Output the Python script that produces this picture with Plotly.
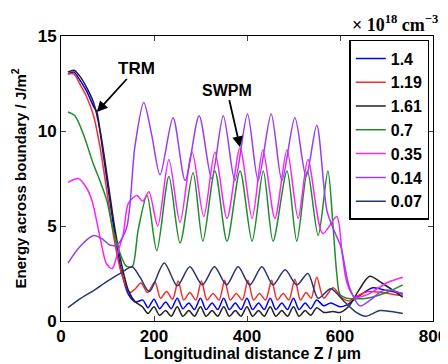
import plotly.graph_objects as go

# ---- data ----
legend_labels = ["1.4", "1.19", "1.61", "0.7", "0.35", "0.14", "0.07"]

z_14 = [15, 28, 40, 55, 70, 77, 85, 100, 115, 130, 145, 160, 176, 187, 200, 212, 225, 237, 250, 262, 275, 287,
        300, 312, 325, 337, 350, 362, 375, 387, 400, 412, 425, 437, 450, 462, 475, 487, 500, 512, 525, 537,
        550, 565, 580, 600, 615, 640, 671, 700, 735]
e_14 = [13.0, 13.1, 12.7, 12.1, 11.3, 11.0, 9.8, 7.2, 4.7, 2.6, 1.4, 1.0, 1.1, 0.7, 1.15, 0.65, 1.0, 0.65, 1.2, 0.65, 0.95, 0.6,
        1.2, 0.6, 0.95, 0.6, 1.2, 0.6, 0.95, 0.6, 1.2, 0.6, 0.95, 0.6, 1.2, 0.6, 0.95, 0.6, 1.2, 0.6, 0.95, 0.65,
        1.1, 0.8, 0.95, 0.75, 0.85, 1.3, 1.75, 1.6, 1.45]

z_119 = [15, 28, 40, 55, 70, 85, 100, 115, 130, 148, 160, 172, 186, 202, 214, 227, 240, 252, 264, 277, 290,
         302, 314, 327, 340, 352, 364, 377, 390, 402, 414, 427, 440, 453, 465, 478, 490, 503, 515, 527, 538,
         550, 565, 585, 605, 620, 640, 660, 690, 715, 735]
e_119 = [13.0, 13.0, 12.5, 11.8, 10.8, 9.0, 6.6, 4.2, 2.5, 1.5, 1.7, 2.0, 1.5, 2.05, 1.2, 1.55, 1.15, 2.1, 1.1, 1.5, 1.1,
         2.1, 1.1, 1.45, 1.1, 2.15, 1.1, 1.45, 1.1, 2.15, 1.1, 1.45, 1.1, 2.15, 1.1, 1.45, 1.1, 2.2, 1.1, 1.5, 1.2,
         2.3, 1.2, 1.75, 1.2, 1.05, 1.35, 1.55, 1.5, 1.4, 1.35]

z_161 = [15, 28, 40, 55, 70, 85, 100, 115, 130, 145, 160, 175, 187, 200, 212, 225, 237, 250, 262, 275, 287,
         300, 312, 325, 337, 350, 362, 375, 387, 400, 412, 425, 437, 450, 462, 475, 487, 500, 512, 525, 537,
         550, 565, 585, 600, 620, 640, 664, 690, 715, 735]
e_161 = [13.1, 13.2, 12.9, 12.3, 11.5, 9.9, 7.5, 5.0, 3.0, 1.6, 1.0, 0.75, 0.4, 0.75, 0.3, 0.55, 0.25, 0.75, 0.25, 0.55, 0.25,
         0.75, 0.25, 0.55, 0.25, 0.75, 0.25, 0.55, 0.25, 0.75, 0.25, 0.55, 0.25, 0.75, 0.25, 0.55, 0.25, 0.75, 0.25, 0.55, 0.3,
         0.7, 0.45, 0.5, 0.45, 0.8, 1.6, 2.35, 2.0, 1.6, 1.25]

z_07 = [15, 30, 50, 69, 85, 99, 110, 125, 140, 153, 166, 185, 206, 232, 256, 284, 305, 331, 357, 385, 411, 435,
        456, 486, 507, 530, 553, 574, 585, 593, 600, 615, 658, 700, 735]
e_07 = [11.0, 10.8, 9.7, 8.3, 7.3, 6.3, 5.0, 3.7, 2.9, 2.85, 4.8, 6.6, 3.7, 7.6, 4.1, 7.8, 4.2, 7.9, 4.2, 7.9, 4.2, 7.9,
        4.2, 7.9, 4.2, 7.9, 4.5, 7.9, 5.0, 2.5, 1.4, 1.2, 1.2, 1.5, 1.9]

z_035 = [15, 37, 55, 67, 84, 98, 110, 122, 134, 145, 163, 176, 189, 208, 232, 256, 282, 307, 331, 357, 385, 411,
         434, 460, 486, 510, 531, 563, 593, 604, 615, 632, 660, 700, 735]
e_035 = [7.3, 7.5, 7.0, 6.3, 4.4, 3.0, 2.75, 3.6, 4.6, 6.2, 6.6, 6.3, 6.8, 5.0, 8.5, 5.2, 8.9, 5.5, 8.9, 5.4, 9.1, 5.4,
         9.0, 5.4, 9.0, 5.4, 8.5, 4.6, 5.5, 3.7, 2.0, 1.25, 1.4, 2.0, 2.3]

z_014 = [15, 40, 70, 90, 105, 120, 141, 159, 178, 195, 213, 241, 267, 297, 324, 349, 374, 401, 424, 452, 475, 503,
         527, 550, 572, 590, 602, 620, 643, 665, 692, 714, 735]
e_014 = [3.05, 3.9, 4.5, 4.3, 4.0, 4.0, 4.9, 9.2, 11.5, 9.8, 7.7, 10.7, 7.4, 10.8, 7.5, 10.8, 7.4, 10.9, 7.4, 10.9, 7.4, 10.7,
         7.6, 10.3, 5.8, 4.6, 3.9, 1.8, 0.8, 1.1, 1.6, 1.6, 1.4]

z_007 = [15, 40, 70, 100, 130, 153, 170, 190, 222, 250, 277, 304, 330, 356, 381, 406, 432, 456, 482, 507, 531, 553,
         580, 610, 635, 655, 686, 710, 735]
e_007 = [0.7, 1.15, 1.6, 2.1, 2.55, 2.85, 2.3, 1.55, 3.05, 1.85, 2.85, 1.9, 2.85, 1.9, 2.85, 1.9, 2.85, 1.9, 2.7, 1.9, 2.5, 1.2,
         1.7, 1.0, 0.45, 0.25, 0.55, 0.5, 0.4]

x_ticks = [0, 200, 400, 600, 800]
y_ticks = [0, 5, 10, 15]

series = [
    (z_14, e_14, "#0000ff"),
    (z_119, e_119, "#f03030"),
    (z_161, e_161, "#222222"),
    (z_07, e_07, "#1e8c2a"),
    (z_035, e_035, "#ff20ff"),
    (z_014, e_014, "#9a3cf0"),
    (z_007, e_007, "#2a3570"),
]

FONT = "Liberation Sans, Arial, sans-serif"

fig = go.Figure()
for (zx, ey, col), name in zip(series, legend_labels):
    fig.add_trace(go.Scatter(x=zx, y=ey, name=name, mode="lines",
                             line=dict(color=col, width=1.5, shape="spline", smoothing=0.8)))

axis_common = dict(ticks="inside", ticklen=5, showline=True, linecolor="black", linewidth=1,
                   mirror="ticks", showgrid=False, zeroline=False, automargin=False,
                   tickfont=dict(family=FONT, size=17, weight="bold"))

# the page body adds an 8px offset, so the figure is 440x356 with margins reduced accordingly
fig.update_layout(
    width=440, height=356,
    margin=dict(l=53, r=15, t=28, b=43),
    paper_bgcolor="white", plot_bgcolor="white",
    font=dict(family=FONT, size=15, color="black", weight="bold"),
    showlegend=True,
    legend=dict(x=0.99, y=0.986, xanchor="right", yanchor="top",
                bordercolor="black", borderwidth=1.5, bgcolor="white",
                font=dict(family=FONT, size=16, color="black", weight="bold"),
                itemwidth=30, tracegroupgap=0),
    xaxis=dict(range=[0, 800], tickvals=x_ticks, **axis_common),
    yaxis=dict(range=[0, 15], tickvals=y_ticks, **axis_common),
    annotations=[
        dict(text="Longitudinal distance Z / μm", xref="paper", yref="paper",
             x=(252 - 61) / 372, y=-0.113, xanchor="center", yanchor="middle", showarrow=False,
             font=dict(family=FONT, size=16, weight="bold")),
        dict(text="Energy across boundary / J/m<sup>2</sup>", xref="paper", yref="paper",
             x=-0.113, y=0.5, xanchor="center", yanchor="middle", showarrow=False, textangle=-90,
             font=dict(family=FONT, size=15, weight="bold")),
        dict(text="× 10<sup>18</sup> cm<sup>−3</sup>", xref="paper", yref="paper",
             x=1.02, y=1.045, xanchor="right", yanchor="middle", showarrow=False,
             font=dict(family="Liberation Serif, Times New Roman, serif", size=18, weight="bold")),
        dict(text="TRM", x=77, y=11.0, ax=40, ay=-44, showarrow=True,
             arrowhead=2, arrowsize=1.2, arrowwidth=1.8, arrowcolor="black",
             font=dict(family=FONT, size=17, weight="bold")),
        dict(text="SWPM", x=385, y=9.15, ax=-13, ay=-57, showarrow=True,
             arrowhead=2, arrowsize=1.2, arrowwidth=1.8, arrowcolor="black",
             font=dict(family=FONT, size=16, weight="bold")),
    ],
)

fig.write_html("out.html")
